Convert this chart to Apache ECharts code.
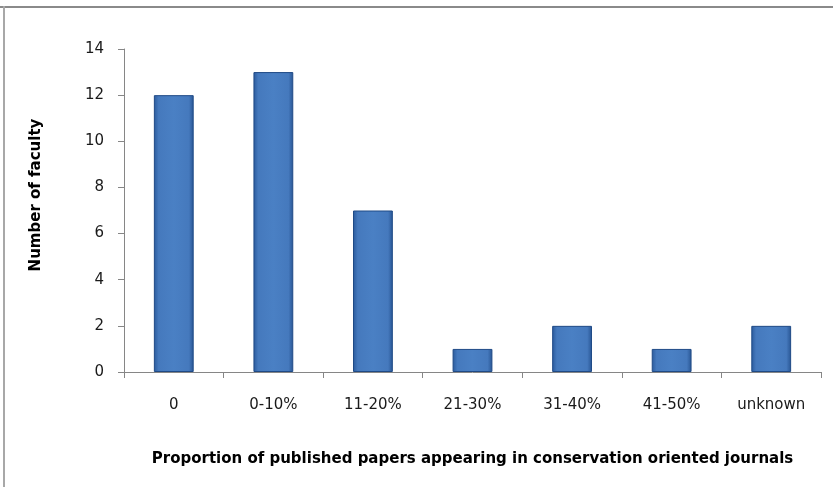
<!DOCTYPE html>
<html><head><meta charset="utf-8">
<script src="https://cdn.jsdelivr.net/npm/echarts@6/dist/echarts.min.js"></script>
<style>html,body{margin:0;padding:0;background:#fff}#c{width:833px;height:487px}</style>
</head><body><div id="c"></div>
<script>
const categories = ['0', '0-10%', '11-20%', '21-30%', '31-40%', '41-50%', 'unknown'];
const facultyCounts = [12, 13, 7, 1, 2, 1, 2];
const yTicks = [0, 2, 4, 6, 8, 10, 12, 14];
const yTitle = 'Number of faculty';
const xTitle = 'Proportion of published papers appearing in conservation oriented journals';

const chart = echarts.init(document.getElementById('c'), null, {renderer: 'canvas'});
const font = 'DejaVu Sans, sans-serif';
chart.setOption({
  animation: false,
  backgroundColor: '#fff',
  graphic: [
    {type: 'line', shape: {x1: 0, y1: 7, x2: 833, y2: 7}, style: {stroke: '#8a8a8a', lineWidth: 2}},
    {type: 'line', shape: {x1: 4, y1: 6, x2: 4, y2: 487}, style: {stroke: '#a8a8a8', lineWidth: 2}},
    {type: 'text', x: 36, y: 195, rotation: Math.PI / 2,
      style: {text: yTitle, fill: '#000', align: 'center', verticalAlign: 'middle',
        font: 'bold 15px DejaVu Sans, sans-serif'}}
  ],
  grid: {left: 124, right: 12, top: 49, bottom: 115},
  xAxis: {
    type: 'category', data: categories,
    axisLine: {lineStyle: {color: '#868686', width: 1}},
    axisTick: {show: true, length: 6, alignWithLabel: false, lineStyle: {color: '#868686'}},
    axisLabel: {color: '#1a1a1a', fontSize: 15, fontFamily: font, margin: 26},
    name: xTitle,
    nameLocation: 'middle', nameGap: 80,
    nameTextStyle: {color: '#000', fontSize: 15, fontWeight: 'bold', fontFamily: font}
  },
  yAxis: {
    type: 'value', min: yTicks[0], max: yTicks[yTicks.length - 1], interval: 2,
    axisLine: {show: true, lineStyle: {color: '#868686', width: 1}},
    axisTick: {show: true, length: 6, inside: false, lineStyle: {color: '#868686'}},
    splitLine: {show: false},
    axisLabel: {color: '#1a1a1a', fontSize: 15, fontFamily: font, margin: 20}
  },
  series: [{
    type: 'bar', data: facultyCounts, barWidth: '40%',
    itemStyle: {
      borderColor: '#1f4a86', borderWidth: 1,
      color: new echarts.graphic.LinearGradient(0, 0, 1, 0, [
        {offset: 0, color: '#2a5a9c'},
        {offset: 0.12, color: '#4579bd'},
        {offset: 0.5, color: '#4a80c4'},
        {offset: 0.88, color: '#4579bd'},
        {offset: 1, color: '#285593'}
      ])
    }
  }]
});
</script></body></html>
